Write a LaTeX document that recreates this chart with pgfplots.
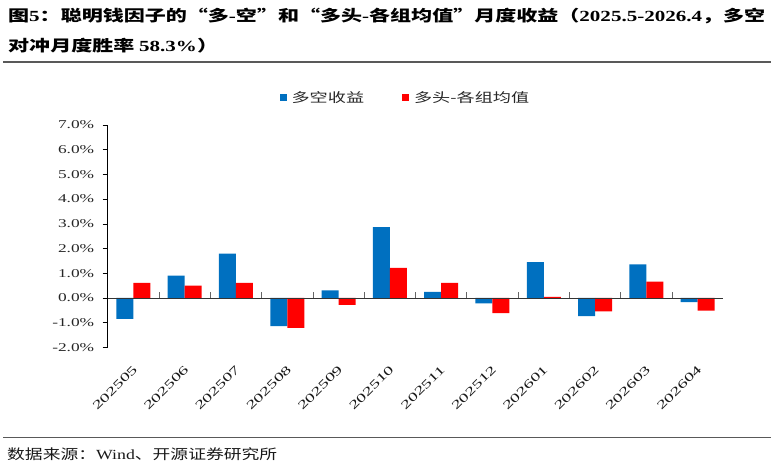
\documentclass[border=0pt]{standalone}
\usepackage{fontspec}
\usepackage{graphicx}
\usepackage{pgfplots}
\pgfplotsset{compat=1.18}

\setmainfont{Liberation Serif}
\newfontfamily\cjk{Noto Sans CJK SC}
\newfontfamily\cjkw{Noto Sans CJK SC}[FakeStretch=1.4]
\newfontfamily\ynum{Liberation Serif}[FakeStretch=1.45]
\newfontfamily\xnum{Liberation Serif}[FakeStretch=1.6]

\definecolor{barblue}{RGB}{0,112,192}
\definecolor{barred}{RGB}{255,0,0}
\definecolor{titlenavy}{RGB}{28,40,120}

\newsavebox\tlineA
\newsavebox\tlineB
\newlength\tw

\begin{document}%
\sbox\tlineA{\bfseries\fontsize{15.5}{15.5}\selectfont\cjk 图{\rmfamily 5}：聪明钱因子的“多{\rmfamily -}空”和“多头{\rmfamily -}各组均值”月度收益（{\rmfamily 2025.5-2026.4}，多空}%
\sbox\tlineB{\bfseries\fontsize{15.5}{15.5}\selectfont\cjk 对冲月度胜率 {\rmfamily 58.3\%}）}%
\setlength\tw{\wd\tlineA}%
\pgfmathsetmacro\tsx{757bp/\tw}%
\begin{tikzpicture}
\useasboundingbox (0,0) rectangle (774bp,-468bp);

% title and rules
\node[anchor=base west, inner sep=0, text=titlenavy] at (8bp,-21.5bp) {\scalebox{\tsx}[1]{\usebox\tlineA}};
\node[anchor=base west, inner sep=0, text=titlenavy] at (8bp,-51.5bp) {\scalebox{\tsx}[1]{\usebox\tlineB}};
\draw[black!65, line width=1.2bp] (3bp,-62bp) -- (771bp,-62bp);
\draw[black!65, line width=1.2bp] (3bp,-437.3bp) -- (771bp,-437.3bp);
\node[anchor=base west, inner sep=0, text=black!90] at (7bp,-459bp)
  {\resizebox{270bp}{\height}{\cjk\fontsize{14}{14}\selectfont 数据来源：{\rmfamily Wind}、开源证券研究所}};

\begin{axis}[
  at={(107.7bp,-347.3bp)}, anchor=south west,
  scale only axis, width=615.6bp, height=222.3bp,
  xmin=-0.5, xmax=11.5, ymin=-2, ymax=7,
  ybar=0pt, bar width=17bp,
  axis y line*=left, axis x line*=bottom,
  x axis line style={draw=none},
  y axis line style={black, line width=0.8pt},
  xtick={0,...,11},
  xticklabels={202505,202506,202507,202508,202509,202510,202511,202512,202601,202602,202603,202604},
  xtick style={draw=none},
  ytick={-2,...,7},
  ytick style={black, line width=0.6pt},
  tick align=outside, major tick length=5bp,
  yticklabel={\pgfmathprintnumber[fixed,fixed zerofill,precision=1,assume math mode=true]{\tick}\%},
  yticklabel style={font=\ynum\fontsize{12}{12}\selectfont, text=black!85, xshift=-5bp},
  xticklabel style={font=\xnum\fontsize{12}{12}\selectfont, rotate=45, anchor=east,
    text=black!90, xshift=-6bp, yshift=-12bp},
  legend style={at={(0.4836,1.1237)}, anchor=center, draw=none, fill=none,
    legend columns=2, font=\cjkw\fontsize{13}{13}\selectfont, text=black!85,
    /tikz/every even column/.append style={column sep=36bp}},
]
\addplot[fill=barblue, draw=none,
  legend image code/.code={\fill[barblue] (0bp,-3.5bp) rectangle (7bp,3.5bp); \path (10bp,0);}]
  coordinates {(0,-0.85) (1,0.90) (2,1.79) (3,-1.14) (4,0.30) (5,2.87)
               (6,0.24) (7,-0.22) (8,1.45) (9,-0.74) (10,1.36) (11,-0.17)};
\addplot[fill=barred, draw=none,
  legend image code/.code={\fill[barred] (0bp,-3.5bp) rectangle (7bp,3.5bp); \path (10bp,0);}]
  coordinates {(0,0.61) (1,0.50) (2,0.61) (3,-1.21) (4,-0.28) (5,1.22)
               (6,0.61) (7,-0.62) (8,0.04) (9,-0.55) (10,0.66) (11,-0.51)};
\legend{多空收益,多头-各组均值}

% zero line with category separators
\draw[black!80, line width=0.8pt] (axis cs:-0.5,0) -- (axis cs:11.5,0);
\pgfplotsinvokeforeach{0.5,1.5,2.5,3.5,4.5,5.5,6.5,7.5,8.5,9.5,10.5}{
  \draw[black!60, line width=0.8pt] (axis cs:#1,0) -- ++(0pt,6bp);
}
\end{axis}
\end{tikzpicture}%
\end{document}
